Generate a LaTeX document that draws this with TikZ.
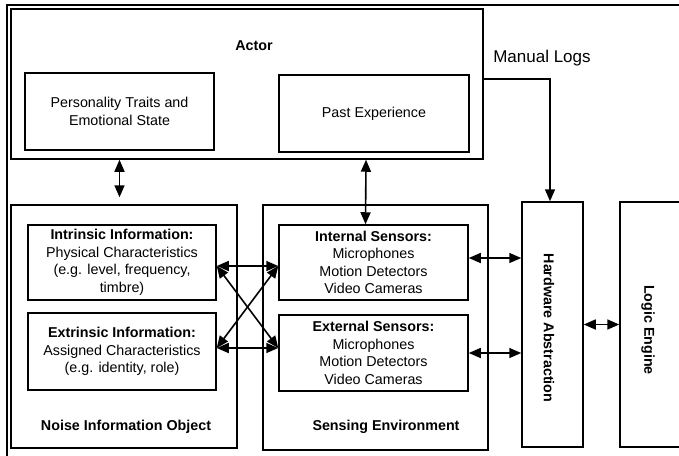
\documentclass[tikz,border=0pt]{standalone}
\usepackage{fontspec}
\setmainfont{Liberation Sans}
\usetikzlibrary{arrows.meta,positioning,calc}

\begin{document}
\begin{tikzpicture}[x=1pt,y=-1pt,
        font=\fontsize{14.3}{17.5}\selectfont,
        box/.style={draw,line width=1.5pt,align=center,inner sep=0pt},
        title/.style={font=\fontsize{14.3}{17.5}\selectfont\bfseries},
        both/.style={{Triangle[length=12pt,width=10pt]}-{Triangle[length=12pt,width=10pt]},line width=1.6pt},
        one/.style={-{Triangle[length=12pt,width=10pt]},line width=1.6pt}]
        \useasboundingbox (0,0) rectangle (679,455);
        \draw[line width=2.6pt] (7,470) -- (7,5) -- (690,5);
        \node[box,minimum width=472pt,minimum height=150pt] (actor) at (247,84) {};
        \node[title] (actorlabel) at (254,46) {Actor};
        \node[box,minimum width=189pt,minimum height=77pt] (personality) at (119.5,111.5) {Personality Traits and\\Emotional State};
        \node[box,minimum width=190pt,minimum height=77pt] (past) at (374,113.5) {Past Experience};
        \node[box,minimum width=226pt,minimum height=243pt] (noise) at (124,326.5) {};
        \node[box,minimum width=188pt,minimum height=75pt] (intrinsic) at (122,262.5) {\textbf{Intrinsic Information:}\\Physical Characteristics\\(e.g. level, frequency,\\timbre)};
        \node[box,minimum width=188pt,minimum height=77pt] (extrinsic) at (122,351.5) {\textbf{Extrinsic Information:}\\Assigned Characteristics\\(e.g. identity, role)};
        \node[title] (noiselabel) at (126,427) {Noise Information Object};
        \node[box,minimum width=225pt,minimum height=245pt] (sensing) at (375.5,327.5) {};
        \node[box,minimum width=189pt,minimum height=75pt] (internal) at (373.5,262.5) {\textbf{Internal Sensors:}\\Microphones\\Motion Detectors\\Video Cameras};
        \node[box,minimum width=189pt,minimum height=76pt] (external) at (373.5,353) {\textbf{External Sensors:}\\Microphones\\Motion Detectors\\Video Cameras};
        \node[title] (sensinglabel) at (386,427) {Sensing Environment};
        \node[box,minimum width=61pt,minimum height=245pt] (hardware) at (552.5,324.5) {};
        \node[title,rotate=-90] (hardwarelabel) at (549,328) {Hardware Abstraction};
        \node[box,minimum width=80pt,minimum height=245pt] (logic) at (660,324.5) {};
        \node[title,rotate=-90] (logiclabel) at (648,330) {Logic Engine};
        \node[font=\fontsize{17}{20}\selectfont] (logs) at (542,58) {Manual Logs};
        \coordinate (intout) at ([yshift=4.5pt]internal.east);
        \draw[both] (actor.south -| personality) -- ([yshift=7pt]noise.north -| personality);
        \draw[both] ([xshift=-8pt]past.south |- actor.south) -- ([xshift=-8pt]internal.north);
        \draw[one] ([yshift=5pt]actor.east) -| ([xshift=-2.5pt]hardware.north);
        \draw[both] ([yshift=-3.5pt]intrinsic.east) -- ([yshift=-3.5pt]internal.west);
        \draw[both] ([yshift=3.5pt]extrinsic.east) -- ([yshift=5pt]external.west);
        \draw[both] ([yshift=-3.5pt]intrinsic.east) -- ([yshift=5pt]external.west);
        \draw[both] ([yshift=3.5pt]extrinsic.east) -- ([yshift=-3.5pt]internal.west);
        \draw[both] (intout) -- (intout -| hardware.west);
        \draw[both] (external.east) -- (external.east -| hardware.west);
        \draw[both] (hardware.east) -- (logic.west);
\end{tikzpicture}
\end{document}
